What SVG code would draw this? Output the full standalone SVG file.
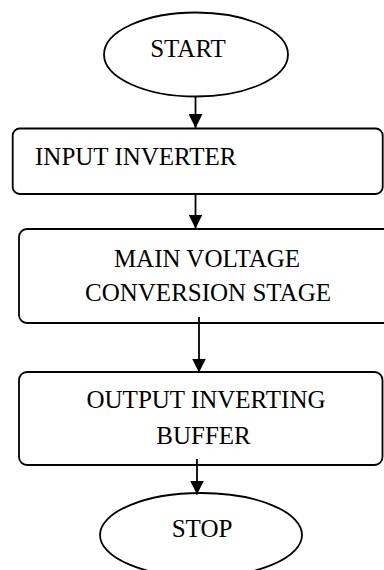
<svg xmlns="http://www.w3.org/2000/svg" width="384" height="570" viewBox="0 0 384 570">
<style>
.s{fill:#fff;stroke:#000;stroke-width:1.8}
.t{font-family:"Liberation Serif","Times New Roman",serif;font-size:25px;fill:#000}
.c{text-anchor:middle}
.e{stroke:#000;stroke-width:1.8;fill:none}
</style>
<defs>
<marker id="a" markerWidth="14" markerHeight="14" refX="14" refY="7" orient="auto" markerUnits="userSpaceOnUse" viewBox="0 0 14 14">
<path d="M0,0 L14,7 L0,14 z" fill="#000"/>
</marker>
</defs>
<g id="start"><ellipse class="s" cx="196" cy="54.5" rx="92" ry="42"/><text class="t c" x="188" y="57">START</text></g>
<g id="input"><rect class="s" x="12.7" y="128.5" width="370" height="65.5" rx="7"/><text class="t" x="35" y="164.5">INPUT INVERTER</text></g>
<g id="main"><rect class="s" x="19" y="229" width="380" height="94" rx="8"/><text class="t c" x="207" y="267">MAIN VOLTAGE</text><text class="t c" x="208" y="301">CONVERSION STAGE</text></g>
<g id="output"><rect class="s" x="19" y="372" width="363.5" height="93" rx="8"/><text class="t c" x="206" y="408">OUTPUT INVERTING</text><text class="t c" x="203.5" y="444">BUFFER</text></g>
<g id="stop"><ellipse class="s" cx="201" cy="535" rx="101" ry="42"/><text class="t c" x="202" y="537">STOP</text></g>
<g id="connectors">
<line class="e" x1="195.5" y1="97" x2="195.5" y2="128" marker-end="url(#a)"/>
<line class="e" x1="195.5" y1="193" x2="195.5" y2="228.5" marker-end="url(#a)"/>
<line class="e" x1="199" y1="317" x2="199" y2="372.5" marker-end="url(#a)"/>
<line class="e" x1="197" y1="459" x2="197" y2="494.5" marker-end="url(#a)"/>
</g>
</svg>
